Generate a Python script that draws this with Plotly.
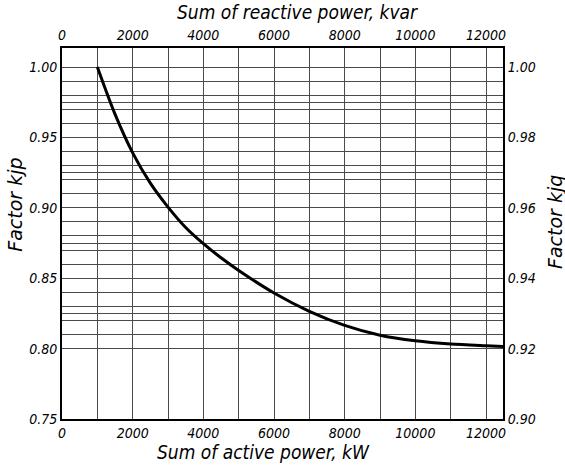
import plotly.graph_objects as go

# Active power sum (kW) and the utilisation factor kjp
active_power_kw = [1000, 1500, 2000, 2500, 3000, 3500, 4000, 4500, 5000, 6000,
                   7000, 8000, 9000, 10000, 11000, 12000, 12480]
factor_kjp = [1.000, 0.9665, 0.939, 0.9175, 0.9005, 0.886, 0.8745, 0.8645, 0.8555,
              0.8395, 0.8265, 0.8165, 0.8095, 0.8055, 0.8032, 0.8020, 0.8015]

# Axis ticks
x_ticks = [0, 2000, 4000, 6000, 8000, 10000, 12000]
kjp_ticks = [0.75, 0.80, 0.85, 0.90, 0.95, 1.00]
kjq_ticks = [0.90, 0.92, 0.94, 0.96, 0.98, 1.00]

# Grid levels: fine kjp steps plus the kjq steps (mapped onto the kjp scale)
kjp_grid = [round(0.80 + 0.01 * i, 3) for i in range(21)]
kjq_grid = [0.93, 0.95, 0.97, 0.99]
x_grid_step = 1000

X_MAX = 12480
KJP_MIN, KJP_MAX = 0.75, 1.0135
# kjq = 0.90 + (kjp - 0.75) * 0.4
KJQ_MIN = 0.90
KJQ_MAX = KJQ_MIN + (KJP_MAX - KJP_MIN) * 0.4

grid_levels = sorted(set(kjp_grid + [round(KJP_MIN + (q - KJQ_MIN) / 0.4, 4) for q in kjq_grid]))

COND = "DejaVu Sans Condensed, DejaVu Sans"
WIDE = "DejaVu Sans"
tick_font = dict(family=COND, size=14, color="black", style="italic")
xtitle_font = dict(family=COND, size=19, color="black", style="italic")
ytitle_font = dict(family=WIDE, size=19, color="black", style="italic")
GRID = "#4a4a4a"

fig = go.Figure()

fig.add_trace(go.Scatter(
    x=active_power_kw, y=factor_kjp, mode="lines",
    line=dict(color="black", width=3, shape="spline", smoothing=0.8),
    showlegend=False, hoverinfo="skip",
))

# invisible traces so the secondary axes are drawn
fig.add_trace(go.Scatter(x=[0], y=[KJQ_MIN], xaxis="x2", yaxis="y2",
                         mode="markers", marker=dict(opacity=0),
                         showlegend=False, hoverinfo="skip"))
fig.add_trace(go.Scatter(x=[0], y=[KJP_MIN], xaxis="x", yaxis="y3",
                         mode="markers", marker=dict(opacity=0),
                         showlegend=False, hoverinfo="skip"))

axis_common = dict(showline=True, linecolor="black", linewidth=2, ticks="",
                   zeroline=False, automargin=False, tickfont=tick_font)

fig.update_layout(
    width=565, height=465,
    margin=dict(l=62, r=62, t=48, b=46, autoexpand=False),
    paper_bgcolor="white", plot_bgcolor="white",
    xaxis=dict(
        range=[0, X_MAX], tickvals=x_ticks, ticktext=[str(v) for v in x_ticks],
        showgrid=True, gridcolor=GRID, gridwidth=1,
        minor=dict(tick0=0, dtick=x_grid_step, showgrid=True,
                   gridcolor=GRID, gridwidth=1, ticks=""),
        **axis_common,
    ),
    xaxis2=dict(
        range=[0, X_MAX], overlaying="x", side="top",
        tickvals=x_ticks, ticktext=[str(v) for v in x_ticks],
        showgrid=False, **axis_common,
    ),
    yaxis=dict(
        range=[KJP_MIN, KJP_MAX], tickvals=kjp_ticks,
        ticktext=[f"{v:.2f}" for v in kjp_ticks],
        showgrid=False, **axis_common,
    ),
    yaxis2=dict(
        range=[KJQ_MIN, KJQ_MAX], overlaying="y", side="right",
        tickvals=kjq_ticks, ticktext=[f"{v:.2f}" for v in kjq_ticks],
        showgrid=False, **axis_common,
    ),
    yaxis3=dict(
        range=[KJP_MIN, KJP_MAX], overlaying="y", side="left",
        tickvals=grid_levels, showticklabels=False, ticks="",
        showgrid=True, gridcolor=GRID, gridwidth=1, zeroline=False,
        showline=False, layer="below traces", automargin=False,
    ),
)

# Axis titles
titles = [
    dict(text="Sum of active power, kW", x=0.456, y=-0.089, textangle=0, font=xtitle_font),
    dict(text="Sum of reactive power, kvar", x=0.533, y=1.097, textangle=0, font=xtitle_font),
    dict(text="Factor kjp", x=-0.107, y=0.577, textangle=-90, font=ytitle_font),
    dict(text="Factor kjq", x=1.118, y=0.531, textangle=-90, font=ytitle_font),
]
for t in titles:
    fig.add_annotation(xref="paper", yref="paper", showarrow=False,
                       xanchor="center", yanchor="middle", **t)

fig.write_html("out.html")
